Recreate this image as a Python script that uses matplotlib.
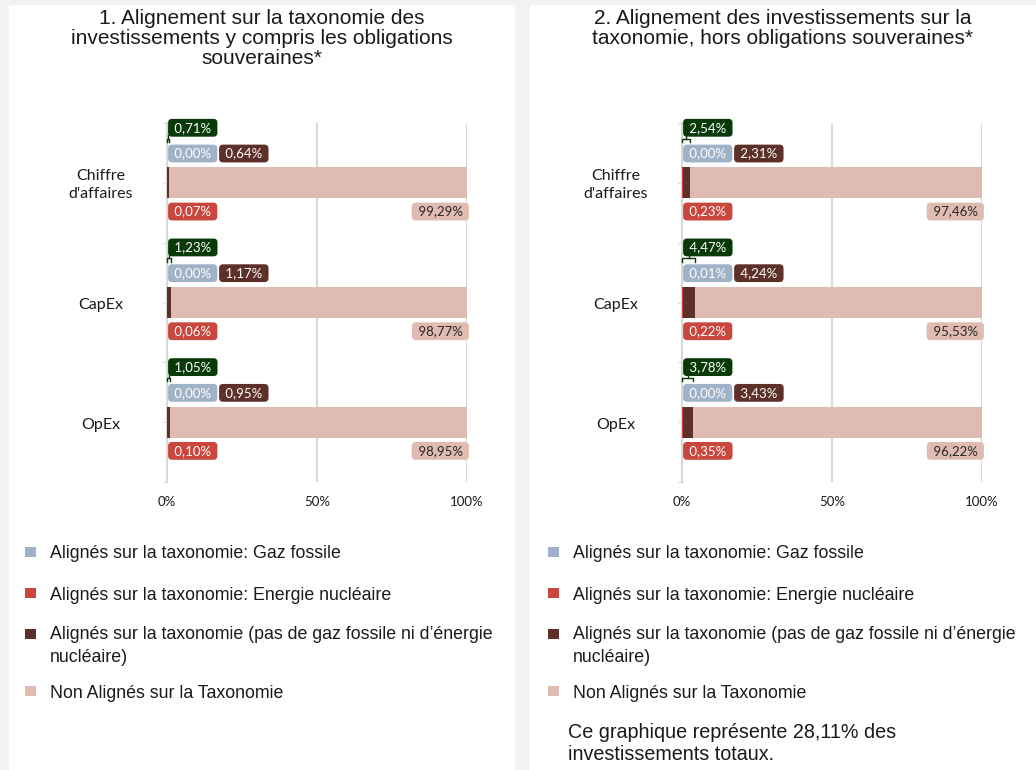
# Graphiques d'alignement sur la taxonomie

import matplotlib.pyplot as plt
from matplotlib.patches import Rectangle

# Données (en %)
categories = ["Chiffre\nd'affaires", "CapEx", "OpEx"]

# 1. y compris les obligations souveraines
total_1 = [0.71, 1.23, 1.05]
gaz_1 = [0.00, 0.00, 0.00]
nucleaire_1 = [0.07, 0.06, 0.10]
alignes_1 = [0.64, 1.17, 0.95]
non_alignes_1 = [99.29, 98.77, 98.95]

# 2. hors obligations souveraines
total_2 = [2.54, 4.47, 3.78]
gaz_2 = [0.00, 0.01, 0.00]
nucleaire_2 = [0.23, 0.22, 0.35]
alignes_2 = [2.31, 4.24, 3.43]
non_alignes_2 = [97.46, 95.53, 96.22]

titres = [
    "1. Alignement sur la taxonomie des\ninvestissements y compris les obligations\nsouveraines*",
    "2. Alignement des investissements sur la\ntaxonomie, hors obligations souveraines*",
]

legende = [
    "Alignés sur la taxonomie: Gaz fossile",
    "Alignés sur la taxonomie: Energie nucléaire",
    "Alignés sur la taxonomie (pas de gaz fossile ni d’énergie\nnucléaire)",
    "Non Alignés sur la Taxonomie",
]

note = "Ce graphique représente 28,11% des\ninvestissements totaux."

# Couleurs
C_GAZ = "#a0b2c7"
C_NUC = "#c9473e"
C_ALI = "#5d3129"
C_NON = "#e0bbb1"
C_VERT = "#083a08"
C_GRILLE = "#d9d9d9"

W, H = 1036, 770


def fmt(v):
    # format français : virgule décimale
    return f"{v:.2f}".replace(".", ",") + "%"


def fx(px):
    return px / W


def fy(py):
    return 1 - py / H


def etiquette(ax, x, y, texte, couleur, dx, ha="left", couleur_texte="white"):
    ax.annotate(" " + texte + " ", xy=(x, y), xytext=(dx, 0), textcoords="offset pixels",
                ha=ha, va="center", fontsize=9.5, family="Lato", color=couleur_texte,
                bbox=dict(boxstyle="round,pad=0.22,rounding_size=0.3", fc=couleur, ec="none"),
                zorder=5)


def dessiner_panneau(ax, total, gaz, nuc, ali, non):
    pos = [0.5, 1.5, 2.5]
    gauche2 = [g + n for g, n in zip(gaz, nuc)]
    gauche3 = [g + a for g, a in zip(gauche2, ali)]

    ax.barh(pos, gaz, height=0.26, color=C_GAZ, zorder=3)
    ax.barh(pos, nuc, left=gaz, height=0.26, color=C_NUC, zorder=3)
    ax.barh(pos, ali, left=gauche2, height=0.26, color=C_ALI, zorder=3)
    ax.barh(pos, non, left=gauche3, height=0.26, color=C_NON, zorder=3)

    for i, yc in enumerate(pos):
        etiquette(ax, 0, yc - 0.46, fmt(total[i]), C_VERT, 4)
        # accolade sous l'étiquette verte
        yb = yc - 0.37
        ax.plot([0, 0, total[i], total[i]], [yb + 0.03, yb, yb, yb + 0.03], color=C_VERT, lw=1, zorder=4,
                clip_on=False)
        ax.plot([total[i] / 2, total[i] / 2], [yb, yb - 0.03], color=C_VERT, lw=1, zorder=4, clip_on=False)

        etiquette(ax, 0, yc - 0.245, fmt(gaz[i]), C_GAZ, 4)
        etiquette(ax, 0, yc - 0.245, fmt(ali[i]), C_ALI, 55)
        etiquette(ax, 0, yc + 0.24, fmt(nuc[i]), C_NUC, 4)
        etiquette(ax, 100, yc + 0.24, fmt(non[i]), C_NON, -1, ha="right", couleur_texte="#262626")

        ax.text(-22, yc + 0.02, categories[i], ha="center", va="center", fontsize=11.5, family="Lato",
                color="#1a1a1a", linespacing=1.4)

    ax.set_xlim(0, 100)
    ax.set_ylim(3, 0)
    ax.set_xticks([0, 50, 100])
    ax.set_xticklabels(["0%", "50%", "100%"], family="Lato", fontsize=9.5)
    ax.set_yticks([0, 0.5, 1, 1.5, 2, 2.5, 3])
    ax.set_yticklabels([])
    ax.tick_params(axis="x", length=0, pad=10, colors="#1a1a1a")
    ax.tick_params(axis="y", length=3, color=C_GRILLE)
    ax.grid(axis="x", color=C_GRILLE, lw=1.5, zorder=0)
    for s in ["top", "right", "bottom"]:
        ax.spines[s].set_visible(False)
    ax.spines["left"].set_color(C_GRILLE)
    ax.spines["left"].set_linewidth(1.5)
    ax.set_facecolor("white")
    ax.set_zorder(1)


fig = plt.figure(figsize=(10.36, 7.7), dpi=100, facecolor="#f2f2f2")

# Fonds blancs des deux panneaux
fig.patches.append(Rectangle((fx(9), 0), fx(506), fy(5), transform=fig.transFigure, fc="white", ec="none", zorder=-1))
fig.patches.append(Rectangle((fx(530), 0), fx(506), fy(5), transform=fig.transFigure, fc="white", ec="none", zorder=-1))

ax1 = fig.add_axes([fx(167), fy(482), fx(300), 359 / H])
ax2 = fig.add_axes([fx(682), fy(482), fx(300), 359 / H])

dessiner_panneau(ax1, total_1, gaz_1, nucleaire_1, alignes_1, non_alignes_1)
dessiner_panneau(ax2, total_2, gaz_2, nucleaire_2, alignes_2, non_alignes_2)

# Titres
for xc, titre in zip([262, 783], titres):
    fig.text(fx(xc), fy(9), titre, ha="center", va="top", fontsize=15, family="Liberation Sans",
             color="#1a1a1a", linespacing=1.07)

# Légendes
couleurs = [C_GAZ, C_NUC, C_ALI, C_NON]
ys = [552, 593, 634, 691]
for x0 in [25, 548]:
    for c, lab, yl in zip(couleurs, legende, ys):
        fig.patches.append(Rectangle((fx(x0), fy(yl + 5)), fx(11), 10 / H, transform=fig.transFigure,
                                     fc=c, ec="none", zorder=2))
        if "\n" in lab:
            fig.text(fx(x0 + 25), fy(yl - 8), lab, ha="left", va="top", fontsize=12.8,
                     family="Liberation Sans", color="#1a1a1a", linespacing=1.45)
        else:
            fig.text(fx(x0 + 25), fy(yl + 2), lab, ha="left", va="center", fontsize=12.8,
                     family="Liberation Sans", color="#1a1a1a")

fig.text(fx(568), fy(723), note, ha="left", va="top", fontsize=14.2, family="Liberation Sans",
         color="#1a1a1a", linespacing=1.2)

fig.savefig("out.png", dpi=100, facecolor=fig.get_facecolor())
